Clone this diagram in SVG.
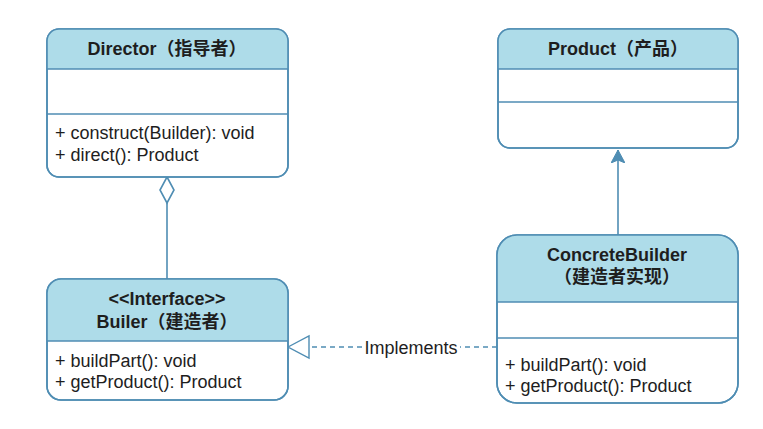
<svg xmlns="http://www.w3.org/2000/svg" width="763" height="429" viewBox="0 0 763 429">
<style>
.box{fill:#ffffff;stroke:#4f8db3;stroke-width:1.6}
.hdr{fill:#aedce9}
.ln{stroke:#4f8db3;stroke-width:1.6;fill:none}
.t{font-family:"Liberation Sans","Noto Sans CJK SC",sans-serif;font-size:18px;fill:#1e1e1e}
.b{font-weight:bold;text-anchor:middle}
</style>
<defs>
<clipPath id="cD"><rect x="47" y="29" width="241" height="148" rx="12"/></clipPath>
<clipPath id="cP"><rect x="498" y="29" width="240" height="119" rx="12"/></clipPath>
<clipPath id="cB"><rect x="47" y="279" width="241" height="121" rx="14"/></clipPath>
<clipPath id="cC"><rect x="497" y="235" width="241" height="168" rx="20"/></clipPath>
<marker id="arr" markerWidth="14" markerHeight="14" refX="13" refY="7" orient="auto" markerUnits="userSpaceOnUse">
<path d="M0,0 L13,7 L0,14 L3,7 Z" fill="#4f8db3" stroke="#4f8db3" stroke-width="1"/>
</marker>
</defs>
<rect width="763" height="429" fill="#ffffff"/>

<g id="connectors">
<line class="ln" x1="167" y1="203" x2="167" y2="279"/>
<path d="M167,177 L174,190 L167,203 L160,190 Z" fill="#ffffff" stroke="#4f8db3" stroke-width="1.6"/>
<line class="ln" x1="618" y1="235" x2="618" y2="150" marker-end="url(#arr)"/>
<line class="ln" x1="497" y1="347" x2="309" y2="347" stroke-dasharray="5,4" stroke-width="1.3"/>
<path d="M288,347 L309,336 L309,358 Z" fill="#ffffff" stroke="#4f8db3" stroke-width="1.4"/>
<rect x="362" y="336" width="98" height="22" fill="#ffffff"/>
<text class="t" x="411" y="354" text-anchor="middle">Implements</text>
</g>

<g id="director">
<rect class="box" x="47" y="29" width="241" height="148" rx="12"/>
<rect class="hdr" x="47" y="29" width="241" height="40" clip-path="url(#cD)"/>
<rect class="ln" x="47" y="29" width="241" height="148" rx="12"/>
<line class="ln" x1="47" y1="69" x2="288" y2="69"/>
<line class="ln" x1="47" y1="114" x2="288" y2="114"/>
<text class="t b" x="167" y="55">Director（指导者）</text>
<text class="t" x="55" y="139">+ construct(Builder): void</text>
<text class="t" x="55" y="161">+ direct(): Product</text>
</g>

<g id="product">
<rect class="box" x="498" y="29" width="240" height="119" rx="12"/>
<rect class="hdr" x="498" y="29" width="240" height="40" clip-path="url(#cP)"/>
<rect class="ln" x="498" y="29" width="240" height="119" rx="12"/>
<line class="ln" x1="498" y1="69" x2="738" y2="69"/>
<line class="ln" x1="498" y1="102" x2="738" y2="102"/>
<text class="t b" x="618" y="55">Product（产品）</text>
</g>

<g id="builder">
<rect class="box" x="47" y="279" width="241" height="121" rx="14"/>
<rect class="hdr" x="47" y="279" width="241" height="62" clip-path="url(#cB)"/>
<rect class="ln" x="47" y="279" width="241" height="121" rx="14"/>
<line class="ln" x1="47" y1="341" x2="288" y2="341"/>
<text class="t b" x="167" y="305">&lt;&lt;Interface&gt;&gt;</text>
<text class="t b" x="167" y="328">Builer（建造者）</text>
<text class="t" x="55" y="367">+ buildPart(): void</text>
<text class="t" x="55" y="388">+ getProduct(): Product</text>
</g>

<g id="concretebuilder">
<rect class="box" x="497" y="235" width="241" height="168" rx="20"/>
<rect class="hdr" x="497" y="235" width="241" height="67" clip-path="url(#cC)"/>
<rect class="ln" x="497" y="235" width="241" height="168" rx="20"/>
<line class="ln" x1="497" y1="302" x2="738" y2="302"/>
<line class="ln" x1="497" y1="338" x2="738" y2="338"/>
<text class="t b" x="617" y="261">ConcreteBuilder</text>
<text class="t b" x="617" y="283">（建造者实现）</text>
<text class="t" x="505" y="371">+ buildPart(): void</text>
<text class="t" x="505" y="392">+ getProduct(): Product</text>
</g>
</svg>
